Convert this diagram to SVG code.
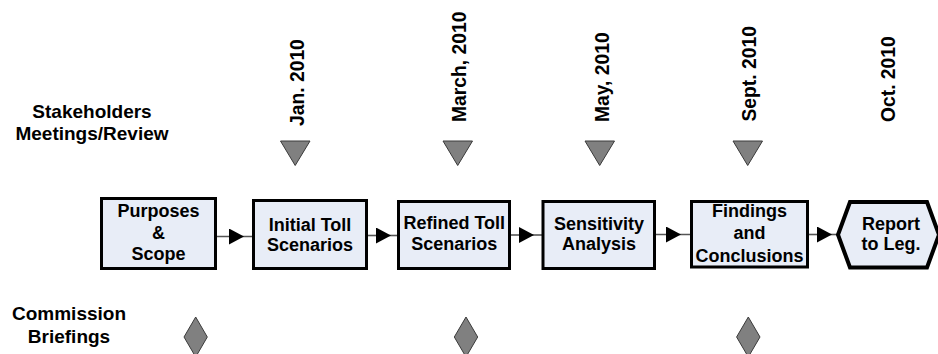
<svg xmlns="http://www.w3.org/2000/svg" width="938" height="354" viewBox="0 0 938 354">
<style>
text{font-family:"Liberation Sans",Arial,sans-serif;font-weight:bold;fill:#000}
.lbl{font-size:19px;text-anchor:middle}
.date{font-size:19.3px;text-anchor:start}
.bt{font-size:18px;text-anchor:middle}
.box{fill:#E8EDF7;stroke:#000;stroke-width:3}
.hex{fill:#E8EDF7;stroke:#000;stroke-width:4;stroke-linejoin:miter}
.mark{fill:#808080;stroke:#3a3a3a;stroke-width:1}
.conn{fill:none;stroke:#555;stroke-width:1.6}
</style>
<defs>
<marker id="ah" markerUnits="userSpaceOnUse" markerWidth="18" markerHeight="18" refX="15" refY="8" orient="auto" viewBox="0 0 18 18">
<path d="M0,0 L15,8 L0,16 Z" fill="#000"/>
</marker>
</defs>

<g id="label-stakeholders">
<text class="lbl" x="92" y="118">Stakeholders</text>
<text class="lbl" x="92" y="140">Meetings/Review</text>
</g>
<g id="label-commission">
<text class="lbl" x="69" y="320">Commission</text>
<text class="lbl" x="69" y="343">Briefings</text>
</g>

<g id="date-jan">
<text class="date" x="304" y="126" transform="rotate(-90 304 126)">Jan. 2010</text>
<polygon class="mark" points="280.5,141 310,141 295.2,165.5"/>
</g>
<g id="date-march">
<text class="date" x="466" y="122" transform="rotate(-90 466 122)">March, 2010</text>
<polygon class="mark" points="443,141 472.5,141 457.7,165.5"/>
</g>
<g id="date-may">
<text class="date" x="608.5" y="122" transform="rotate(-90 608.5 122)">May, 2010</text>
<polygon class="mark" points="585,141 614.5,141 599.7,165.5"/>
</g>
<g id="date-sept">
<text class="date" x="756" y="121.5" transform="rotate(-90 756 121.5)">Sept. 2010</text>
<polygon class="mark" points="733,141 762.5,141 747.7,165.5"/>
</g>
<g id="date-oct">
<text class="date" x="894.5" y="122" transform="rotate(-90 894.5 122)">Oct. 2010</text>
</g>

<g id="briefing-1"><polygon class="mark" points="195.7,317 207.3,337 195.7,357 184,337"/></g>
<g id="briefing-2"><polygon class="mark" points="466,317 477.7,337 466,357 454.3,337"/></g>
<g id="briefing-3"><polygon class="mark" points="748.3,317 760,337 748.3,357 736.6,337"/></g>

<g id="connectors">
<polyline class="conn" points="217,236.5 244,236.5 252,236.5" marker-mid="url(#ah)"/>
<polyline class="conn" points="368,235.5 391,235.5 397,235.5" marker-mid="url(#ah)"/>
<polyline class="conn" points="511,235 534,235 542,235" marker-mid="url(#ah)"/>
<polyline class="conn" points="656,234.5 681,234.5 690,234.5" marker-mid="url(#ah)"/>
<polyline class="conn" points="809,234.5 832,234.5 837,234.5" marker-mid="url(#ah)"/>
</g>

<g id="node-purposes">
<rect class="box" x="101.5" y="198.5" width="114" height="70"/>
<text class="bt" x="158.5" y="217">Purposes</text>
<text class="bt" x="158.5" y="238.5">&amp;</text>
<text class="bt" x="158.5" y="260">Scope</text>
</g>
<g id="node-initial">
<rect class="box" x="253.5" y="200.5" width="113" height="68"/>
<text class="bt" x="310" y="230.5">Initial Toll</text>
<text class="bt" x="310" y="251">Scenarios</text>
</g>
<g id="node-refined">
<rect class="box" x="398.5" y="201.5" width="111" height="67"/>
<text class="bt" x="454.3" y="229">Refined Toll</text>
<text class="bt" x="454.3" y="250">Scenarios</text>
</g>
<g id="node-sensitivity">
<rect class="box" x="543" y="201.5" width="111.5" height="67"/>
<text class="bt" x="599" y="229.5">Sensitivity</text>
<text class="bt" x="599" y="250">Analysis</text>
</g>
<g id="node-findings">
<rect class="box" x="691.5" y="201.5" width="116" height="65.5"/>
<text class="bt" x="749.5" y="217">Findings</text>
<text class="bt" x="749.5" y="239">and</text>
<text class="bt" x="749.5" y="261.5">Conclusions</text>
</g>
<g id="node-report">
<polygon class="hex" points="838,234.7 850,202 927,202 939,234.7 927,267.5 850,267.5"/>
<text class="bt" x="891" y="230">Report</text>
<text class="bt" x="891" y="249.5">to Leg.</text>
</g>
</svg>
